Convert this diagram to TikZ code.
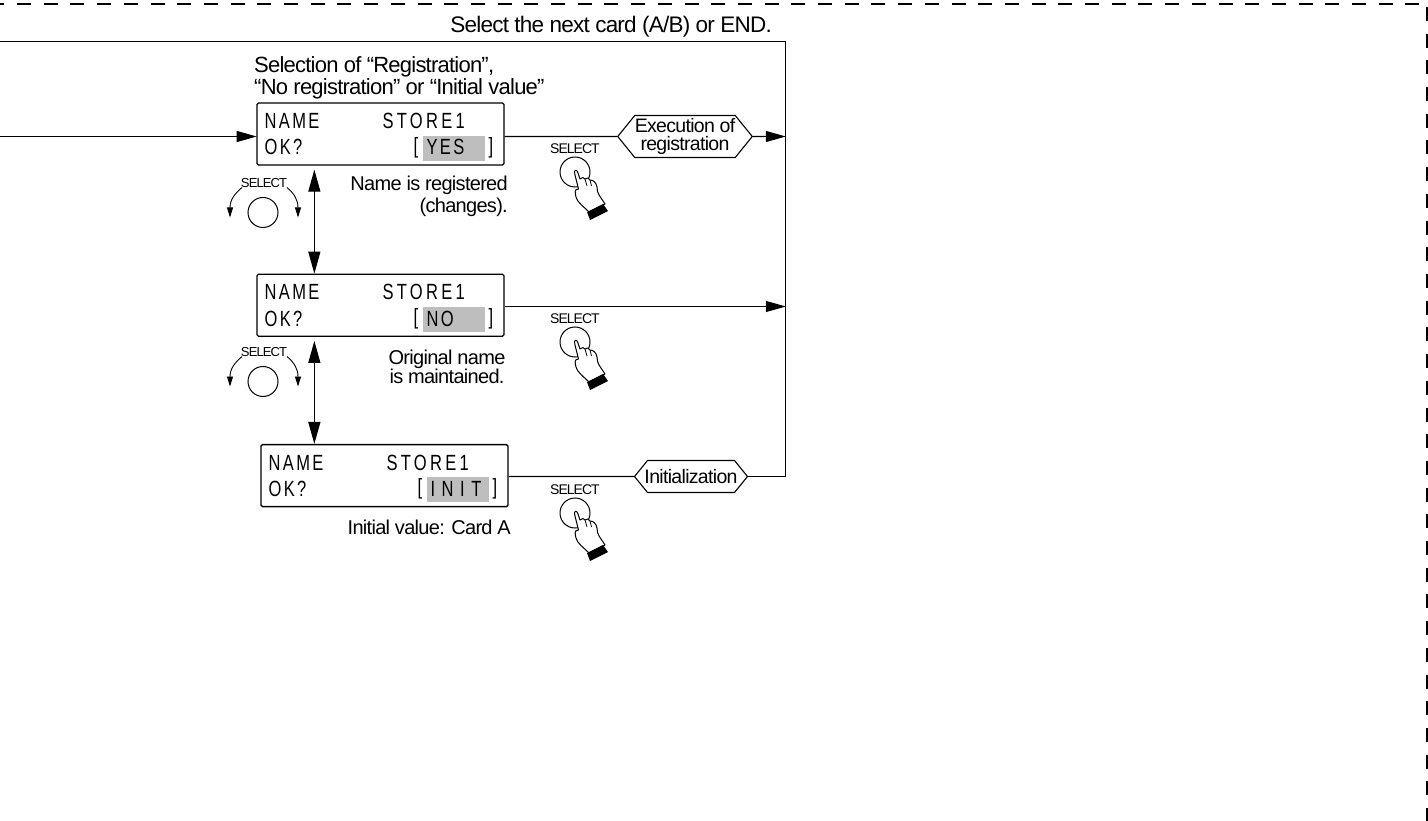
\documentclass[tikz,border=0pt]{standalone}
\usepackage{fontspec}
\setmainfont{Liberation Sans}
\newfontfamily\tightfont[LetterSpace=-3.5]{Liberation Sans}
\newfontfamily\smallfont[LetterSpace=-7]{Liberation Sans}
\newfontfamily\lcdfont[FakeStretch=0.75,LetterSpace=11]{Liberation Sans}
\newfontfamily\lcdstore[FakeStretch=0.75,LetterSpace=15]{Liberation Sans}
\newfontfamily\lcdwide[FakeStretch=0.75,LetterSpace=30]{Liberation Sans}
\usetikzlibrary{
  shapes.geometric,
  shapes.symbols,
  arrows.meta,
  positioning,
  calc
}
\definecolor{lcdgray}{RGB}{190,190,190}
\tikzset{
  lcdbox/.style={
    rectangle, rounded corners=1.5pt, draw=black, line width=1.3pt,
    minimum width=247pt, minimum height=62pt, inner sep=0pt
  },
  lcdtext/.style={anchor=west, inner sep=0pt, font=\fontsize{22}{22}\lcdfont},
  lcdmark/.style={
    anchor=west, fill=lcdgray, minimum width=62pt, minimum height=25pt, inner sep=0pt
  },
  hexbox/.style={
    signal, signal to=east and west, signal pointer angle=102,
    draw=black, line width=1.1pt, inner sep=0pt, fill=white,
    align=center, font=\fontsize{19.5}{18}\tightfont
  },
  note/.style={inner sep=0pt, font=\fontsize{20}{22}\tightfont},
  bignote/.style={inner sep=0pt, font=\fontsize{22.5}{22}\tightfont},
  selnote/.style={inner sep=0pt, font=\fontsize{22}{22}\tightfont},
  smalltext/.style={inner sep=0pt, font=\fontsize{14}{14}\smallfont},
  arrow/.style={-{Triangle[length=20pt,width=11pt]}, line width=1.1pt, shorten >=-0.3pt},
  dblarrow/.style={{Triangle[length=22pt,width=12pt]}-{Triangle[length=22pt,width=12pt]}, line width=1.2pt},
  line/.style={line width=1.1pt},
  dashline/.style={line width=2pt, dash pattern=on 14pt off 12.7pt},
  pics/pushbtn/.style={code={
    \node[smalltext] (-label) at (0,-23.5) {SELECT};
    \draw[line width=1pt] (0,0) circle (15);
    \draw[line width=1pt, fill=white, line join=round]
      (3.5,17) -- (0,3) .. controls (-2,-3) and (2,-3) .. (3,1) -- (5,7)
      .. controls (7,5) and (9,5) .. (10,7) .. controls (12,5) and (14,6) .. (15,8)
      .. controls (18,8) and (21,10) .. (22,15) .. controls (22,22) and (25,24) .. (30,32)
      -- (14,40) .. controls (8,34) and (2,30) .. (1,25)
      .. controls (0,21) and (-1,17) .. (3.5,17) -- cycle;
    \draw[line width=0.8pt] (10,7) -- (12,14) (15,8) -- (16.5,14);
    \fill (12,40) -- (28,32) -- (33,39) -- (15,48) -- cycle;
  }},
  pics/selectdial/.style={code={
    \node[smalltext, font=\fontsize{13}{13}\smallfont] (-label) at (1,-29) {SELECT};
    \draw[line width=1pt] (0,0) circle (15);
    \draw[line width=0.9pt, -{Triangle[length=10pt,width=6pt]}]
      (-21,-25) .. controls (-28,-19) and (-33,-13) .. (-33,5);
    \draw[line width=0.9pt, -{Triangle[length=10pt,width=6pt]}]
      (24,-25) .. controls (31,-19) and (35,-13) .. (35,5);
  }}
}
\begin{document}
\begin{tikzpicture}[x=1pt, y=-1pt]
\useasboundingbox (0,0) rectangle (1428,821);

% outer frame
\coordinate (dashL) at (0,4);
\coordinate (dashR) at (1428,4);
\coordinate (dashT) at (1427,7);
\coordinate (dashB) at (1427,821);
\draw[dashline, dash phase=9.7pt] (dashL) -- (dashR);
\draw[dashline] (dashT) -- (dashB);

\coordinate (topL) at (0,41.5);
\coordinate (topR) at (785.5,41.5);
\coordinate (inL) at (0,136.5);
\coordinate (midR) at (785.5,306.5);

% displays
\node[lcdbox] (lcd1) at (380.5,134) {};
\node[lcdbox, below=108pt of lcd1] (lcd2) {};
\node[lcdbox, below=107pt of lcd2, xshift=4pt] (lcd3) {};

\foreach \lcd/\val/\vfont in {lcd1/YES/\lcdfont, lcd2/NO/\lcdfont, lcd3/INIT/\lcdwide} {
  \node[lcdmark] (\lcd-mark) at ($(\lcd.north west)+(166.5,46)$) {};
  \node[lcdtext] (\lcd-name) at ($(\lcd.north west)+(8,18.5)$) {NAME};
  \node[lcdtext] (\lcd-store) at ($(\lcd.north west)+(126,18.5)$) {\lcdstore STORE1};
  \node[lcdtext] (\lcd-ok) at ($(\lcd.north west)+(8,45)$) {OK?};
  \node[lcdtext] (\lcd-open) at ($(\lcd.north west)+(157,45)$) {[};
  \node[lcdtext] (\lcd-val) at ($(\lcd.north west)+(170,45)$) {\vfont \val};
  \node[lcdtext] (\lcd-close) at ($(\lcd.north west)+(232,45)$) {]};
}

% action hexagons
\node[hexbox, minimum width=134pt, minimum height=42pt] (hexExec) at (685,136.5)
  {Execution of\\registration};
\node[hexbox, inner xsep=-3pt, minimum width=112pt, minimum height=32pt] (hexInit) at (691,476.5)
  {Initialization};

% texts
\node[bignote, anchor=east] (nextcard) at (772,27) {Select the next card (A/B) or END.};
\node[selnote, anchor=west, align=left] (selnote) at (254,78)
  {Selection of “Registration”,\\“No registration” or “Initial value”};
\node[note, anchor=east, align=right] (regnote) at (508,196)
  {Name is registered\\(changes).};
\node[note, anchor=center, align=center] (orgnote) at (447,367)
  {Original name\\[-3pt]is maintained.};
\node[note, anchor=east] (initnote) at (511,527) {Initial value: Card A};

% connectors
\draw[line] (hexInit) -| (topR) -- (topL);
\draw[line] (lcd3.east |- hexInit) -- (hexInit);
\draw[arrow] (inL) -- (inL -| lcd1.west);
\draw[line] (lcd1.east |- hexExec) -- (hexExec);
\draw[arrow] (hexExec) -- (hexExec -| topR);
\draw[arrow] (lcd2.east |- midR) -- (midR);
\draw[dblarrow] ($(lcd1.south west)+(58,4)$) -- ($(lcd2.north west)+(58,0)$);
\draw[dblarrow] ($(lcd2.south west)+(58,4)$) -- ($(lcd3.north west)+(54,0)$);

% operating hints
\pic (dial1) at (263,212.5) {selectdial};
\pic (dial2) at (263,381.5) {selectdial};
\pic (btn1) at (575,172) {pushbtn};
\pic (btn2) at (575,342) {pushbtn};
\pic (btn3) at (575,513) {pushbtn};
\end{tikzpicture}
\end{document}
